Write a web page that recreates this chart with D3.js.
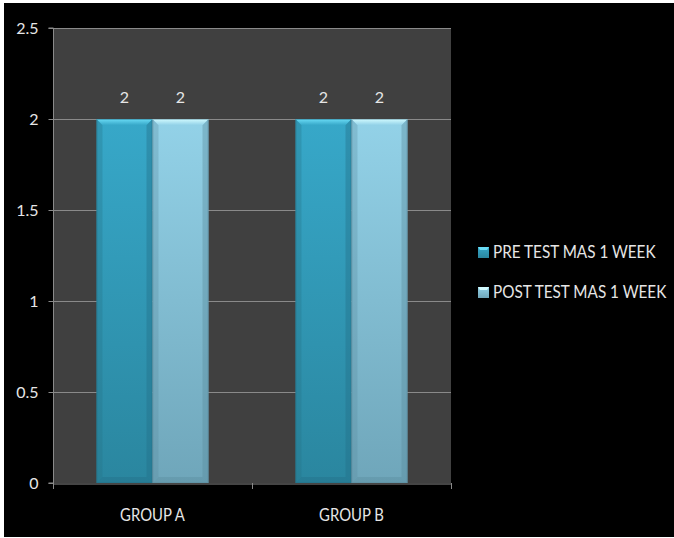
<!DOCTYPE html>
<html>
<head>
<meta charset="utf-8">
<script src="https://cdn.jsdelivr.net/npm/d3@7"></script>
<style>
  html, body { margin: 0; padding: 0; background: #ffffff; }
  svg { display: block; }
  text { font-family: Lato, "Open Sans", sans-serif; }
</style>
</head>
<body>
<svg id="chart" width="674" height="538"></svg>
<script>
// Data
const categories = ["GROUP A", "GROUP B"];
const seriesNames = ["PRE TEST MAS 1 WEEK", "POST TEST MAS 1 WEEK"];
const preTest = [2, 2];
const postTest = [2, 2];
const yTicks = [0, 0.5, 1, 1.5, 2, 2.5];

const seriesValues = [preTest, postTest];
const seriesColors = [
  { top: "#37a8c9", bottom: "#2a869f", light: "#6adcf6", dark: "#236f86" },
  { top: "#93d2e8", bottom: "#6fa6ba", light: "#d2fbff", dark: "#5a8c9e" }
];

// Horizontal squeeze applied to the narrow label lettering
const narrow = 0.85;

const svg = d3.select("#chart");

// Black canvas inside a thin white border
svg.append("rect").attr("x", 4).attr("y", 3).attr("width", 670).attr("height", 534).attr("fill", "#000");

const plot = { left: 53, right: 451, top: 28, bottom: 483 };

const x0 = d3.scaleBand().domain(categories).range([plot.left, plot.right]).padding(0);
const x1 = d3.scaleBand().domain(d3.range(seriesNames.length)).range([0, x0.bandwidth()]).paddingInner(0).paddingOuter(0.777);
const y = d3.scaleLinear().domain([0, 2.5]).range([plot.bottom, plot.top]);

// Plot area
svg.append("rect")
  .attr("x", plot.left).attr("y", plot.top)
  .attr("width", plot.right - plot.left).attr("height", plot.bottom - plot.top)
  .attr("fill", "#404040");

// Gridlines
svg.append("g").selectAll("line").data(yTicks.filter(t => t > 0)).join("line")
  .attr("x1", plot.left).attr("x2", plot.right)
  .attr("y1", d => Math.round(y(d)) + 0.5).attr("y2", d => Math.round(y(d)) + 0.5)
  .attr("stroke", "#8a8a8a").attr("stroke-width", 1);

// Y axis
const yAxis = svg.append("g")
  .attr("transform", `translate(${plot.left + 0.5},0)`)
  .call(d3.axisLeft(y).tickValues(yTicks).tickFormat(d => d3.format("")(d)).tickSize(5).tickPadding(10));
yAxis.select(".domain").attr("stroke", "#8a8a8a").attr("d", `M-5,${y(2.5)}H0V${y(0)}H-5`);
yAxis.selectAll(".tick line").attr("stroke", "#8a8a8a");
yAxis.selectAll(".tick text").attr("fill", "#e6e6e6").attr("font-size", 16).attr("dy", "0.36em");

// X axis
const xAxis = svg.append("g")
  .attr("transform", `translate(0,${plot.bottom + 0.5})`)
  .call(d3.axisBottom(x0).tickSize(0).tickPadding(0));
xAxis.select(".domain").attr("stroke", "#8a8a8a");
xAxis.selectAll(".tick text")
  .attr("fill", "#e6e6e6").attr("font-size", 17.5)
  .attr("dy", 0).attr("y", 0)
  .attr("transform", `translate(0,37) scale(${narrow},1)`);
// Category boundary ticks
svg.append("g").selectAll("line").data(x0.domain().map(c => x0(c)).concat([plot.right])).join("line")
  .attr("x1", d => Math.round(d) + 0.5).attr("x2", d => Math.round(d) + 0.5)
  .attr("y1", plot.bottom).attr("y2", plot.bottom + 6)
  .attr("stroke", "#8a8a8a");

// Gradients
const defs = svg.append("defs");
seriesColors.forEach((c, i) => {
  const g = defs.append("linearGradient").attr("id", "grad" + i)
    .attr("x1", 0).attr("y1", 0).attr("x2", 0).attr("y2", 1);
  g.append("stop").attr("offset", "0%").attr("stop-color", c.top);
  g.append("stop").attr("offset", "100%").attr("stop-color", c.bottom);
  const h = defs.append("linearGradient").attr("id", "hl" + i)
    .attr("x1", 0).attr("y1", 0).attr("x2", 0).attr("y2", 1);
  h.append("stop").attr("offset", "0%").attr("stop-color", c.light);
  h.append("stop").attr("offset", "100%").attr("stop-color", c.top);
});

// Bars with bevelled edges
const bevel = 6;
const bars = [];
categories.forEach((cat, ci) => {
  seriesValues.forEach((vals, si) => {
    bars.push({ cat, si, value: vals[ci] });
  });
});

const barG = svg.append("g").selectAll("g").data(bars).join("g")
  .attr("transform", d => `translate(${x0(d.cat) + x1(d.si)},0)`);

barG.each(function(d) {
  const g = d3.select(this);
  const w = x1.bandwidth();
  const yt = y(d.value), yb = y(0);
  const c = seriesColors[d.si];
  g.append("rect").attr("x", 0).attr("y", yt).attr("width", w).attr("height", yb - yt)
    .attr("fill", `url(#grad${d.si})`);
  // side bevels
  g.append("path").attr("d", `M0,${yt}L${bevel},${yt + bevel}L${bevel},${yb - bevel}L0,${yb}Z`)
    .attr("fill", c.dark).attr("opacity", 0.3);
  g.append("path").attr("d", `M${w},${yt}L${w - bevel},${yt + bevel}L${w - bevel},${yb - bevel}L${w},${yb}Z`)
    .attr("fill", c.dark).attr("opacity", 0.4);
  // bottom bevel
  g.append("path").attr("d", `M0,${yb}L${bevel},${yb - bevel}L${w - bevel},${yb - bevel}L${w},${yb}Z`)
    .attr("fill", c.dark).attr("opacity", 0.4);
  // top bevel highlight
  g.append("path").attr("d", `M0,${yt}L${w},${yt}L${w - bevel},${yt + bevel}L${bevel},${yt + bevel}Z`)
    .attr("fill", `url(#hl${d.si})`);
  // outline
  g.append("rect").attr("x", 0.5).attr("y", yt + 0.5).attr("width", w - 1).attr("height", yb - yt - 1)
    .attr("fill", "none").attr("stroke", c.dark).attr("stroke-opacity", 0.45).attr("stroke-width", 1);
  // value label
  g.append("text").attr("x", w / 2).attr("y", yt - 16)
    .attr("text-anchor", "middle").attr("fill", "#e6e6e6").attr("font-size", 16)
    .text(d.value);
});

// Legend
const legend = svg.append("g").selectAll("g").data(seriesNames).join("g")
  .attr("transform", (d, i) => `translate(478,${247 + i * 40})`);
legend.append("rect").attr("width", 11).attr("height", 11)
  .attr("fill", (d, i) => `url(#grad${i})`);
legend.append("path").attr("d", "M0,0H11L9,3H2Z").attr("fill", (d, i) => seriesColors[i].light);
legend.append("text")
  .attr("transform", `translate(15,11) scale(${narrow},1)`)
  .attr("fill", "#e6e6e6").attr("font-size", 18).text(d => d);
</script>
</body>
</html>
